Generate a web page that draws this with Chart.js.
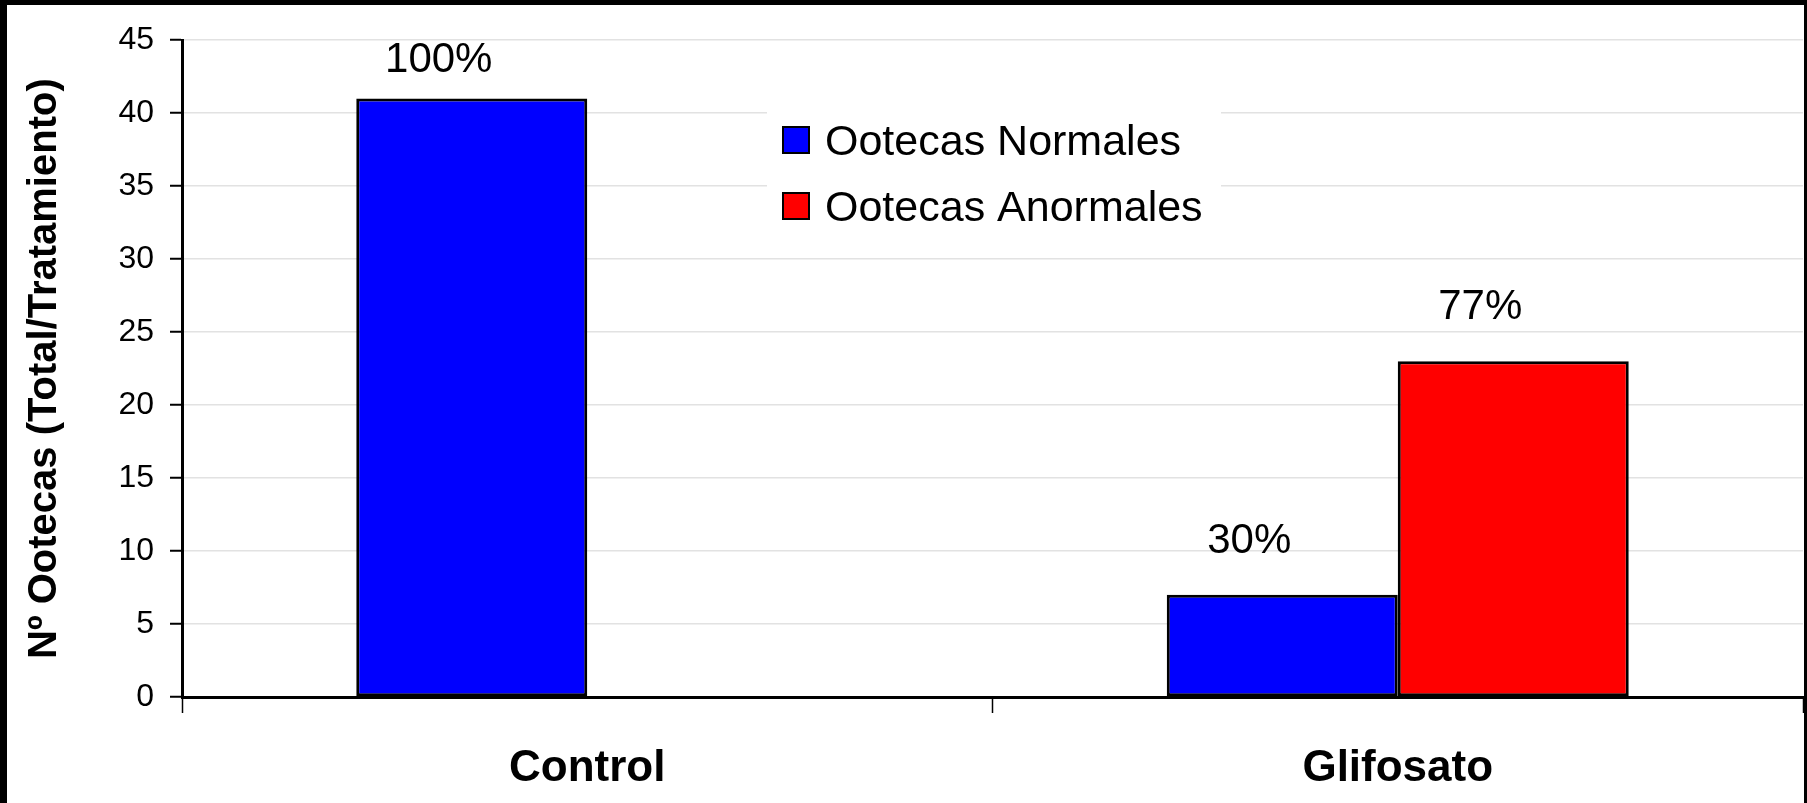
<!DOCTYPE html>
<html lang="es">
<head>
<meta charset="utf-8">
<title>Ootecas por tratamiento</title>
<script src="https://cdn.jsdelivr.net/npm/chart.js@4.4.1/dist/chart.umd.min.js"></script>
<style>
    body { margin: 0; background: #000; overflow: hidden; }
    #marco {
        position: absolute;
        left: 7px;
        top: 5px;
        width: 1797px;
        height: 798px;
        background: #fff;
    }
</style>
</head>
<body>
<div id="marco">
    <canvas id="ootecasChart"></canvas>
</div>
<script>
const categorias = ['Control', 'Glifosato'];
const ootecasNormales = [41, 7];
const ootecasAnormales = [0, 23];
const porcentajesNormales = ['100%', '30%'];
const porcentajesAnormales = ['', '77%'];
const nombresSeries = ['Ootecas Normales', 'Ootecas Anormales'];
const coloresSeries = ['#0000ff', '#ff0000'];
const ejeY = { min: 0, max: 45, paso: 5 };
const tituloEjeY = 'Nº Ootecas (Total/Tratamiento)';

const fuente = "'Liberation Sans', Arial, sans-serif";

// etiquetas de porcentaje encima de cada barra
const etiquetasPorcentaje = {
    id: 'etiquetasPorcentaje',
    afterDatasetsDraw(chart) {
        const ctx = chart.ctx;
        const area = chart.chartArea;
        ctx.save();
        ctx.font = '42px ' + fuente;
        ctx.fillStyle = '#000';
        ctx.textAlign = 'center';
        ctx.textBaseline = 'alphabetic';
        chart.data.datasets.forEach((ds, i) => {
            const meta = chart.getDatasetMeta(i);
            meta.data.forEach((barra, j) => {
                const texto = ds.porcentajes[j];
                if (!texto) return;
                const y = Math.max(barra.y - 42, area.top + 32);
                ctx.fillText(texto, barra.x - 33, y);
            });
        });
        ctx.restore();
    }
};

// leyenda dentro del area del grafico, con fondo blanco
const leyendaInterna = {
    id: 'leyendaInterna',
    afterDraw(chart) {
        const ctx = chart.ctx;
        ctx.save();
        ctx.fillStyle = '#fff';
        ctx.fillRect(760, 75, 454, 150);
        ctx.font = '43px ' + fuente;
        ctx.textBaseline = 'alphabetic';
        chart.data.datasets.forEach((ds, i) => {
            const y = 122 + i * 66;
            ctx.fillStyle = ds.backgroundColor;
            ctx.fillRect(776, y, 26, 26);
            ctx.strokeStyle = '#000';
            ctx.lineWidth = 2;
            ctx.strokeRect(776, y, 26, 26);
            ctx.fillStyle = '#000';
            ctx.fillText(ds.label, 818, y + 13 + 15);
        });
        ctx.restore();
    }
};

const ctxGrafico = document.getElementById('ootecasChart').getContext('2d');
new Chart(ctxGrafico, {
    type: 'bar',
    data: {
        labels: categorias,
        datasets: [{
            label: nombresSeries[0],
            data: ootecasNormales,
            porcentajes: porcentajesNormales,
            backgroundColor: coloresSeries[0],
            borderColor: '#000',
            borderWidth: 3,
            borderSkipped: false
        }, {
            label: nombresSeries[1],
            data: ootecasAnormales,
            porcentajes: porcentajesAnormales,
            backgroundColor: coloresSeries[1],
            borderColor: '#000',
            borderWidth: 3,
            borderSkipped: false
        }]
    },
    options: {
        responsive: true,
        maintainAspectRatio: false,
        animation: false,
        categoryPercentage: 0.57,
        barPercentage: 1.0,
        layout: {
            padding: { top: 29, right: 1, left: 0, bottom: 0 }
        },
        plugins: {
            legend: { display: false },
            tooltip: { enabled: false }
        },
        scales: {
            x: {
                grid: {
                    drawOnChartArea: false,
                    drawTicks: true,
                    tickLength: 16,
                    tickColor: '#000',
                    tickWidth: 1.5
                },
                border: { color: '#000', width: 3 },
                ticks: {
                    color: '#000',
                    padding: 29,
                    font: { family: fuente, size: 44, weight: 'bold' }
                },
                afterFit(scale) { scale.height = 106; }
            },
            y: {
                min: ejeY.min,
                max: ejeY.max,
                ticks: {
                    stepSize: ejeY.paso,
                    color: '#000',
                    padding: 16,
                    font: { family: fuente, size: 32 }
                },
                grid: {
                    color: '#e2e2e2',
                    lineWidth: 1.5,
                    tickLength: 12,
                    tickColor: '#000',
                    tickWidth: 2
                },
                border: { color: '#000', width: 3 },
                title: {
                    display: true,
                    text: tituloEjeY,
                    color: '#000',
                    padding: { top: 14, bottom: 0 },
                    font: { family: fuente, size: 40, weight: 'bold' }
                },
                afterFit(scale) { scale.width = 175; }
            }
        }
    },
    plugins: [etiquetasPorcentaje, leyendaInterna]
});
</script>
</body>
</html>
